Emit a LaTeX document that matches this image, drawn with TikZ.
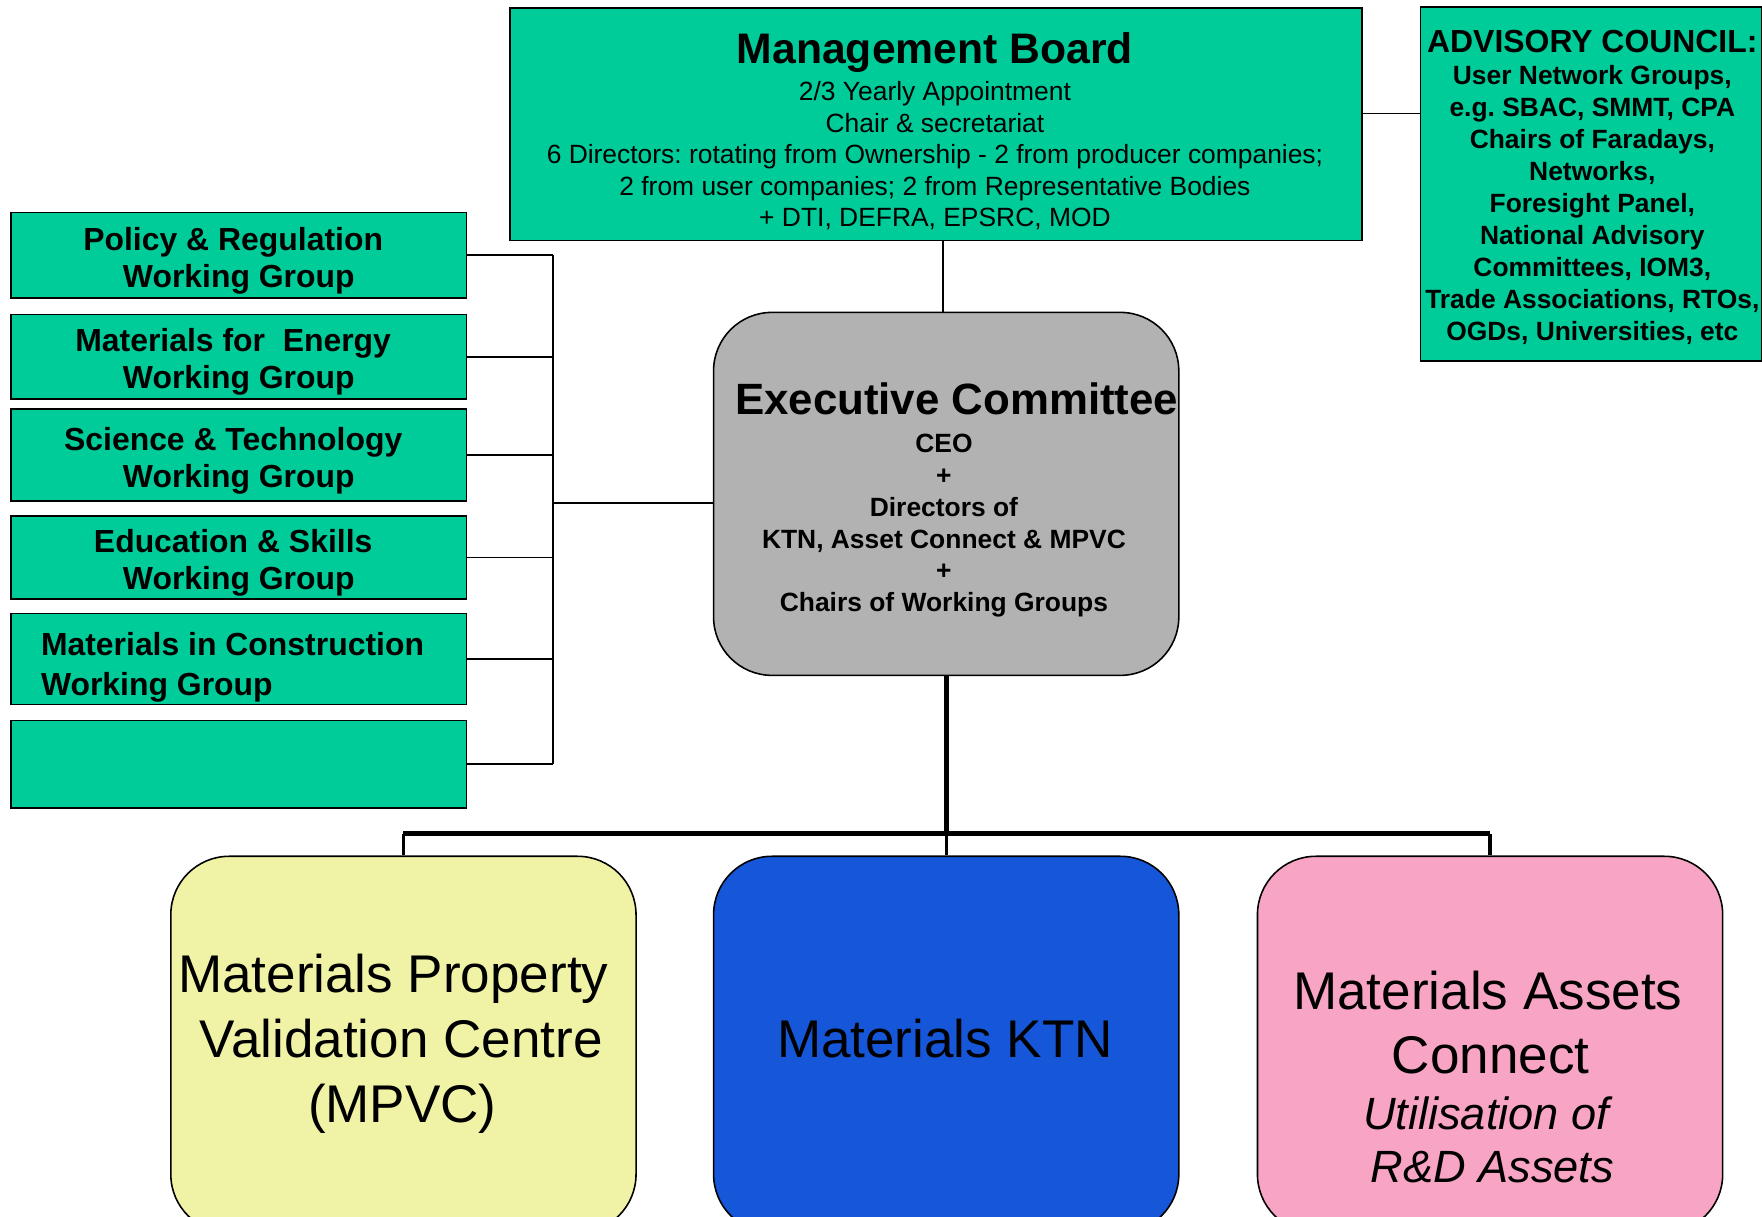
\documentclass[tikz,border=0pt]{standalone}
\usepackage{fontspec}
\setmainfont{Liberation Sans}
\frenchspacing
\definecolor{boardgreen}{HTML}{00CC99}
\definecolor{execgrey}{HTML}{B2B2B2}
\definecolor{mpvcyellow}{HTML}{F0F3A6}
\definecolor{ktnblue}{HTML}{1656D8}
\definecolor{assetpink}{HTML}{F8A4C4}
\tikzset{
  box/.style={draw=black, line width=1.4pt, fill=boardgreen, inner sep=0pt},
  wgbox/.style={box, minimum width=405pt},
  unitbox/.style={draw=black, line width=1.4pt, rounded corners=52pt, minimum width=414pt, minimum height=335pt, inner sep=0pt},
  link/.style={line width=1.3pt},
  trunk/.style={line width=4.5pt},
  drop/.style={line width=3pt},
  txt/.style={anchor=base, inner sep=0pt},
  headline/.style={txt, font=\fontsize{38}{44}\selectfont\bfseries},
  small/.style={txt, font=\fontsize{23.5}{28}\selectfont},
  smallbold/.style={txt, font=\fontsize{23.5}{28}\selectfont\bfseries},
  wgtext/.style={txt, font=\fontsize{28.4}{33}\selectfont\bfseries},
  big/.style={txt, font=\fontsize{47.2}{57}\selectfont},
  bigit/.style={txt, font=\fontsize{40.2}{47}\selectfont\itshape}
}
\begin{document}
\begin{tikzpicture}[x=1pt, y=-1pt, line join=miter]
\useasboundingbox (0,0) rectangle (1568,1083);
\clip (0,0) rectangle (1568,1083);
% boxes
\node[box, minimum width=758pt, minimum height=207pt] (mb) at (833,110.5) {};
\node[box, minimum width=304pt, minimum height=315pt] (ac) at (1416,163.5) {};
\node[unitbox, fill=execgrey, minimum height=323pt] (ec) at (842,439.5) {};
\foreach \n/\y/\h in {1/227/76, 2/317.5/75, 3/405/82, 4/496/74, 5/586.5/81, 6/680/78}
  \node[wgbox, minimum height=\h pt] (wg\n) at (212.5,\y) {};
\node[unitbox, fill=mpvcyellow] (mpvc) at (359,929.5) {};
\node[unitbox, fill=ktnblue] (ktn) at (842,929.5) {};
\node[unitbox, fill=assetpink] (mac) at (1326,929.5) {};

% management board
\node[headline] (mbt) at (832,56.5) {Management Board};
\foreach \t [count=\i] in {{2/3 Yearly Appointment}, {Chair \& secretariat},
  {6 Directors: rotating from Ownership - 2 from producer companies;},
  {2 from user companies; 2 from Representative Bodies}, {+ DTI, DEFRA, EPSRC, MOD}}
  \node[small] (mb\i) at (832,61.8+28*\i) {\t};

% advisory council
\node[wgtext] (act) at (1417,46.9) {ADVISORY COUNCIL:};
\foreach \t [count=\i] in {{User Network Groups,}, {e.g. SBAC, SMMT, CPA}, {Chairs of Faradays,},
  {Networks,}, {Foresight Panel,}, {National Advisory}, {Committees, IOM3,},
  {Trade Associations, RTOs,}, {OGDs, Universities, etc}}
  \node[smallbold] (ac\i) at (1417,46.3+28.55*\i) {\t};

% executive committee
\node[headline, font=\fontsize{39}{45}\selectfont\bfseries] (ect) at (851.4,369.3) {Executive Committee};
\foreach \t [count=\i] in {CEO, +, Directors of, {KTN, Asset Connect \& MPVC}, +, Chairs of Working Groups}
  \node[smallbold] (ec\i) at (840,374.5+28.3*\i) {\t};

% working groups
\foreach \n/\a in {1/{Policy \& Regulation}, 2/{Materials for\ \ Energy},
  3/{Science \& Technology}, 4/{Education \& Skills}}{
  \node[wgtext] (wg\n-top) at ([xshift=-5pt,yshift=4.5pt]wg\n.center) {\a};
  \node[wgtext] (wg\n-bot) at ([yshift=-28.5pt]wg\n.center) {Working Group};
}
\node[wgtext, anchor=base west] (wg5-top) at ([xshift=27pt,yshift=3.5pt]wg5.west) {Materials in Construction};
\node[wgtext, anchor=base west] (wg5-bot) at ([xshift=27pt,yshift=-32pt]wg5.west) {Working Group};

% units
\foreach \t/\x/\y [count=\i] in {Materials Property/350/883.6, Validation Centre/357/941.5, (MPVC)/358/998.5}
  \node[big] (mpvc\i) at (\x,\y) {\t};
\node[big] (ktnt) at (841,941.5) {Materials KTN};
\node[big] (mac1) at (1324,898) {Materials Assets};
\node[big] (mac2) at (1326.5,955) {Connect};
\node[bigit] (mac3) at (1322.5,1004.8) {Utilisation of};
\node[bigit] (mac4) at (1328,1052.2) {R\&D Assets};

% connectors
\draw[link] ([xshift=6pt]mb.south) -- ([xshift=-3pt]ec.north);
\draw[link] ([yshift=9.5pt]mb.east) -- ([yshift=9.5pt]mb.east -| ac.west);
\coordinate (bus) at (492,447.5);
\foreach \n in {1,...,6}
  \draw[link] (wg\n.east) -- (wg\n.east -| bus);
\draw[link] (wg1.east -| bus) -- (wg6.east -| bus);
\draw[link] (bus) -- (bus -| ec.west);
\coordinate (fork) at (842,742);
\draw[trunk] (ec.south) -- (fork);
\draw[trunk] (fork -| mpvc.north) -- (fork -| mac.north);
\foreach \u in {mpvc, ktn, mac}
  \draw[drop] (fork -| \u.north) -- (\u.north);
\end{tikzpicture}
\end{document}
